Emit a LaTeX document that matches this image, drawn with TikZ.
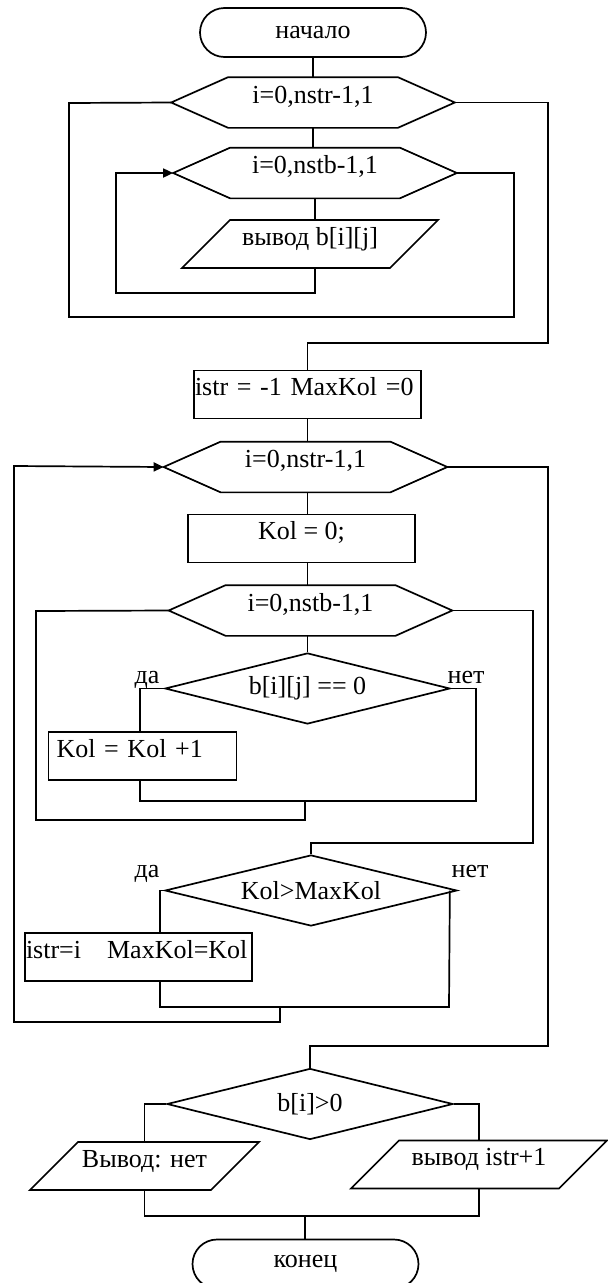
\documentclass[tikz,border=0pt]{standalone}
\usepackage{fontspec}
\setmainfont{Liberation Serif}
\usetikzlibrary{shapes.geometric, shapes.misc, arrows.meta}

\begin{document}
\begin{tikzpicture}[x=1pt, y=-1pt, line width=1.7pt,
  font=\fontsize{26pt}{30pt}\selectfont,
  every node/.style={inner sep=0pt},
  term/.style={draw, rounded rectangle, minimum width=226pt, minimum height=49pt},
  hexa/.style={minimum width=168pt, text height=25pt, text depth=24pt},
  proc/.style={draw, rectangle, minimum width=227pt, text height=25pt, text depth=23pt},
  io/.style={draw, trapezium, trapezium left angle=45, trapezium right angle=135,
    trapezium stretches body, minimum height=48pt, text height=25pt, text depth=23pt},
  cond/.style={draw, diamond, aspect=4, minimum width=286pt, minimum height=71pt},
  arr/.style={-{Triangle[length=10pt, width=9pt]}}]
  \useasboundingbox (0,0) rectangle (608,1283);

  \node[term]                  (start)  at (313,32.5)    {начало};
  \node[hexa]                  (loopA)  at (313,102.5)   {i=0,nstr-1,1};
  \node[hexa]                  (loopB)  at (315,173)     {i=0,nstb-1,1};
  \node[io, minimum width=256pt] (outB) at (310,244)     {вывод b[i][j]};
  \node[proc, text width=225pt, align=left] (init) at (307.5,394.5) {istr = -1 MaxKol =0};
  \node[hexa]                  (loopC)  at (305.5,467)   {i=0,nstr-1,1};
  \node[proc]                  (zero)   at (301.5,538.5) {Kol = 0;};
  \node[hexa]                  (loopD)  at (310.5,610.5) {i=0,nstb-1,1};
  \node[cond, minimum width=285pt] (cond1) at (307.5,688.5) {b[i][j] == 0};
  \node[proc, minimum width=188pt, text width=172pt, align=left] (inc) at (142.5,756) {Kol = Kol +1};
  \node[cond, minimum width=292pt] (cond2) at (311,890.5) {Kol>MaxKol};
  \node[proc, text width=225pt, align=left] (upd) at (138.5,957) {istr=i\ \ \ MaxKol=Kol};
  \node[cond]                  (cond3)  at (310,1104)    {b[i]>0};
  \node[io, minimum width=229pt] (outNo)  at (144.5,1166)  {Вывод: нет};
  \node[io, minimum width=256pt] (outYes) at (479,1164.5)  {вывод istr+1};
  \node[term]                  (finish) at (305.5,1264)  {конец};

  % branch labels
  \node[anchor=base] (yes1) at (147,683) {да};
  \node[anchor=base] (no1)  at (466,683) {нет};
  \node[anchor=base] (yes2) at (147,877) {да};
  \node[anchor=base] (no2)  at (470,877) {нет};

  % loop headers
  \foreach \h in {loopA, loopB, loopC, loopD} {
    \coordinate (\h-w) at ([xshift=-57pt]\h.west);
    \coordinate (\h-e) at ([xshift=57pt]\h.east);
    \draw (\h.north west) -- (\h.north east) -- (\h-e) -- (\h.south east)
      -- (\h.south west) -- (\h-w) -- cycle;
  }

  % joins
  \coordinate (j1) at (305,801);
  \coordinate (j2) at (280,1007);
  \coordinate (j3) at (305,1216);

  % output loop
  \draw (start) -- (loopA);
  \draw (loopA.south) -- (loopA.south |- loopB.north);
  \draw (loopB.south) -- (loopB.south |- outB.north);
  \draw[arr] (loopB.south |- outB.south) -- ++(0,24) -| (116,173) -- (loopB-w);
  \draw (loopB-e) -| (514,317) -| (69,103) -- (loopA-w);
  \draw (loopA-e) -| (548,343) -| (init.north);

  % search loop
  \draw (init.south) -- (init.south |- loopC.north);
  \draw (loopC.south -| init) -- (init |- zero.north);
  \draw (zero.south -| init) -- (init |- loopD.north);
  \draw (loopD.south -| init) -- (init |- cond1.north);
  \draw (cond1.west) -| ([xshift=-2.5pt]inc.north);
  \draw (cond1.east) -| (476,801) -| ([xshift=-2.5pt]inc.south);
  \draw (j1) -- ++(0,19) -| (36,611) -- (loopD-w);
  \draw (loopD-e) -| (533,843) -| (cond2.north);
  \draw (cond2.west) -| ([xshift=21.5pt]upd.north);
  \draw ([xshift=-8pt]cond2.east) -- (449,1007) -| ([xshift=21.5pt]upd.south);
  \draw[arr] (j2) -- ++(0,15) -| (14,466) -- (loopC-w);

  % result
  \draw (loopC-e) -| (548,1046) -| (cond3.north);
  \draw (cond3.west) -| (outNo.north);
  \draw (cond3.east) -| (outYes.north);
  \draw (outNo.south) |- (j3) -| (outYes.south);
  \draw (j3) -- (j3 |- finish.north);
\end{tikzpicture}
\end{document}
